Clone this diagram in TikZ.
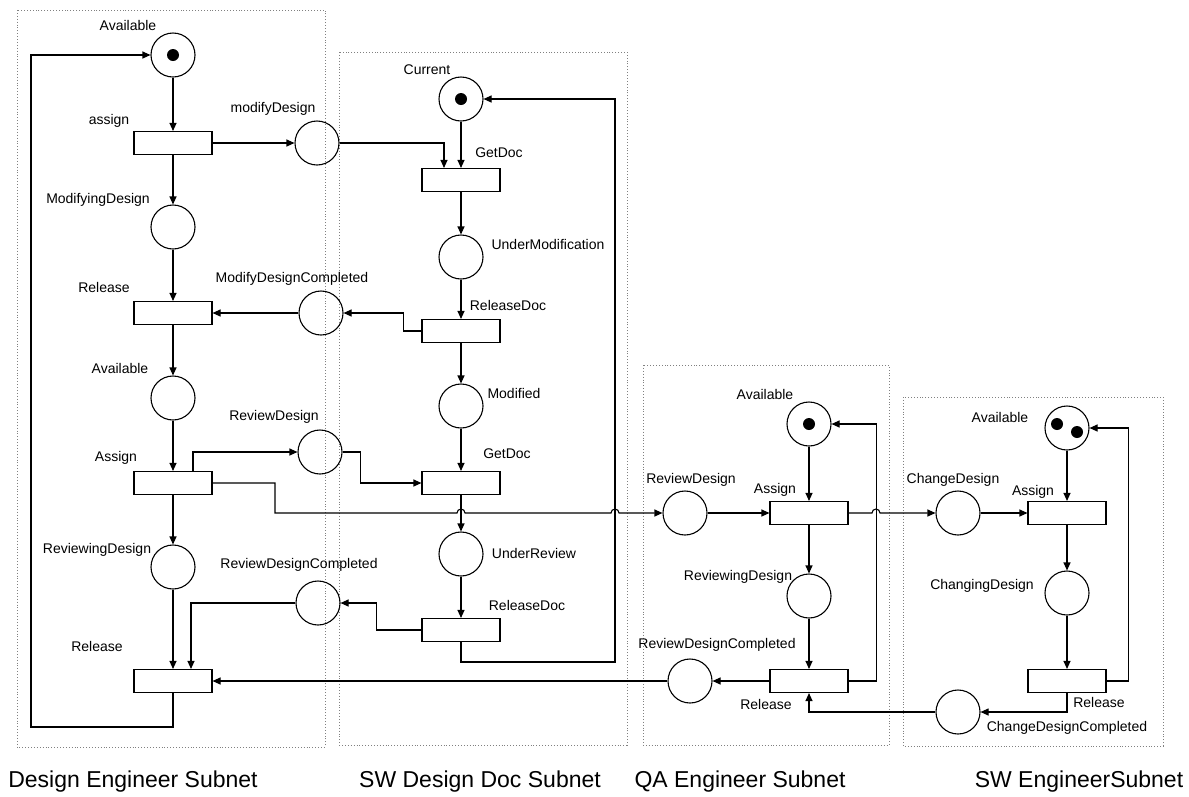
\documentclass[tikz,border=0pt]{standalone}
\usepackage{fontspec}
\setmainfont{Liberation Sans}
\usetikzlibrary{arrows.meta}
\tikzstyle{place}=[circle, draw, minimum size=44pt, inner sep=0pt, line width=1.1pt]
\tikzstyle{trans}=[rectangle, draw, minimum width=78pt, minimum height=23pt, inner sep=0pt, line width=1.1pt]
\tikzstyle{token}=[circle, fill=black, minimum size=12pt, inner sep=0pt]
\tikzstyle{lbl}=[font=\fontsize{14}{16}\selectfont, inner sep=0pt]
\tikzstyle{subnettitle}=[font=\fontsize{23}{26}\selectfont, inner sep=0pt]
\tikzstyle{flow}=[line width=1.1pt, -{Triangle[length=8pt,width=7pt]}]
\tikzstyle{subnet}=[dotted, draw=boxgray, line width=0.9pt]
\definecolor{boxgray}{rgb}{0.5,0.5,0.5}

\begin{document}
\begin{tikzpicture}[x=1pt, y=-1pt]
    \useasboundingbox (0,0) rectangle (1189,796);
    % dotted subnet boxes
    \foreach \xa/\ya/\xb/\yb in {17/10/325/747, 339/52/627/745, 643/365/889/745, 903/397/1163/746}
    \draw[subnet] (\xa,\ya) rectangle (\xb,\yb);

    % design engineer subnet
    \node[place] (da1) at (173,55) {};
    \node[trans] (dt1) at (173,143) {};
    \node[place] (dp2) at (173,227) {};
    \node[trans] (dt2) at (173,313) {};
    \node[place] (dp3) at (173,398) {};
    \node[trans] (dt3) at (173,483) {};
    \node[place] (dp4) at (173,567) {};
    \node[trans] (dt4) at (173,681) {};
    % shared places
    \node[place] (mdes) at (317,143) {};
    \node[place] (mdc) at (321,313) {};
    \node[place] (rdes) at (320,452) {};
    \node[place] (rdc) at (318,603) {};
    % sw design doc subnet
    \node[place] (cur) at (461,99) {};
    \node[trans] (gd1) at (461,180) {};
    \node[place] (um) at (461,257) {};
    \node[trans] (rd1) at (461,331) {};
    \node[place] (mod) at (461,406) {};
    \node[trans] (gd2) at (461,483) {};
    \node[place] (ur) at (461,554) {};
    \node[trans] (rd2) at (461,630) {};
    % qa engineer subnet
    \node[place] (qa) at (809,424) {};
    \node[place] (qrd) at (685,513) {};
    \node[trans] (qt1) at (809,513) {};
    \node[place] (qrv) at (809,596) {};
    \node[trans] (qt2) at (809,681) {};
    \node[place] (qrdc) at (690,681) {};
    % sw engineer subnet
    \node[place] (sa) at (1067,428) {};
    \node[place] (scd) at (958,513) {};
    \node[trans] (st1) at (1067,513) {};
    \node[place] (scg) at (1067,593) {};
    \node[trans] (st2) at (1067,681) {};
    \node[place] (scdc) at (958,712) {};

    % tokens
    \node[token] (tk1) at (da1) {};
    \node[token] (tk2) at (cur) {};
    \node[token] (tk3) at (qa) {};
    \node[token] (tk4) at (1057,424) {};
    \node[token] (tk5) at (1077,432) {};

    % straight arcs
    \foreach \a/\b in {da1/dt1, dt1/dp2, dp2/dt2, dt2/dp3, dp3/dt3, dt3/dp4, dp4/dt4,
      dt1/mdes, mdc/dt2, cur/gd1, gd1/um, um/rd1, rd1/mod, mod/gd2, gd2/ur, ur/rd2,
      qa/qt1, qrd/qt1, qt1/qrv, qrv/qt2, qt2/qrdc, qrdc/dt4,
      sa/st1, scd/st1, st1/scg, scg/st2}
    \draw[flow] (\a) -- (\b);

    % bent arcs
    \draw[flow] (mdes.east) -| ([xshift=-17pt]gd1.north);
    \draw[flow] (rd1.west) -- ++(-18,0) |- (mdc.east);
    \draw[flow] ([xshift=20pt]dt3.north) |- (rdes.west);
    \draw[flow] (rdes.east) -- ++(18,0) |- (gd2.west);
    \draw[flow] (rd2.west) -- ++(-45,0) |- (rdc.east);
    \draw[flow] (rdc.west) -| ([xshift=18pt]dt4.north);
    \draw[flow] (rd2.south) |- (615,662) |- (cur.east);
    \draw[flow] (dt4.south) |- (31,727) |- (da1.west);
    \draw[flow] (dt3.east) -| (275,513) -- (457,513) arc[start angle=180, end angle=360, radius=4]
      -- (611,513) arc[start angle=180, end angle=360, radius=4] -- (qrd.west);
    \draw[flow] (qt1.east) -- (872,513) arc[start angle=180, end angle=360, radius=4] -- (scd.west);
    \draw[flow] (qt2.east) -- ++(28,0) |- (qa.east);
    \draw[flow] (st2.south) |- (scdc.east);
    \draw[flow] (scdc.west) -| (qt2.south);
    \draw[flow] (st2.east) -- ++(22,0) |- (sa.east);

    % labels
    \foreach \n/\x/\y/\t in {l1/128/25/Available, l2/109/121/assign, l3/273/109/modifyDesign,
      l4/98/200/ModifyingDesign, l5/104/287/Release, l6/292/279/ModifyDesignCompleted,
      l7/120/368/Available, l8/274/417/ReviewDesign, l9/116/458/Assign,
      l10/97/550/ReviewingDesign, l11/299/565/ReviewDesignCompleted, l12/97/646/Release,
      l13/427/70/Current, l14/499/153/GetDoc, l15/548/244/UnderModification,
      l16/508/305/ReleaseDoc, l17/514/393/Modified, l18/507/454/GetDoc,
      l19/534/553/UnderReview, l20/527/605/ReleaseDoc,
      l21/765/394/Available, l22/691/480/ReviewDesign, l23/775/490/Assign,
      l24/738/577/ReviewingDesign, l25/717/645/ReviewDesignCompleted, l26/766/704/Release,
      l27/1000/417/Available, l28/953/480/ChangeDesign, l29/1033/492/Assign,
      l30/982/586/ChangingDesign, l31/1099/702/Release, l32/1067/728/ChangeDesignCompleted}
    \node[lbl] (\n) at (\x,\y) {\t};

    % subnet names
    \node[subnettitle] (s1) at (133,782) {Design Engineer Subnet};
    \node[subnettitle] (s2) at (480,782) {SW Design Doc Subnet};
    \node[subnettitle] (s3) at (740,782) {QA Engineer Subnet};
    \node[subnettitle] (s4) at (1079,782) {SW EngineerSubnet};
\end{tikzpicture}
\end{document}
